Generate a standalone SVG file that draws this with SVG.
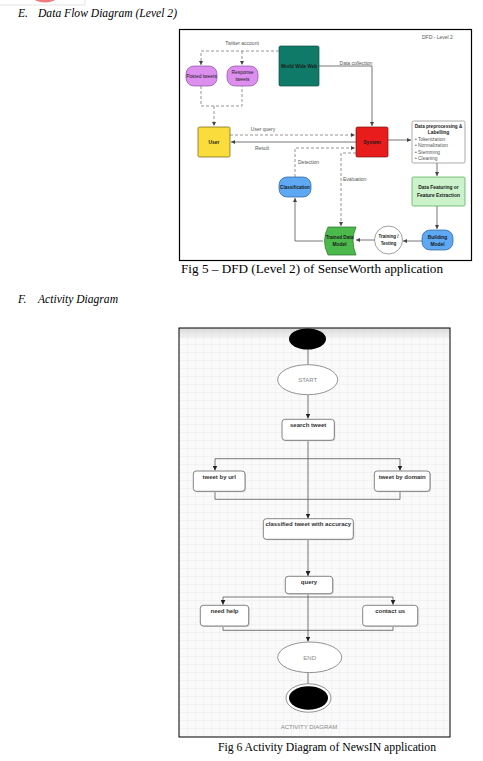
<svg xmlns="http://www.w3.org/2000/svg" width="483" height="761" viewBox="0 0 483 761">
<defs>
<marker id="ah" viewBox="0 0 10 10" refX="10" refY="5" markerWidth="4" markerHeight="4" markerUnits="userSpaceOnUse" orient="auto"><path d="M0,0 L10,5 L0,10 Z" fill="#444"/></marker>
<marker id="ah2" viewBox="0 0 10 10" refX="10" refY="5" markerWidth="5" markerHeight="5" markerUnits="userSpaceOnUse" orient="auto"><path d="M0,0 L10,5 L0,10 Z" fill="#222"/></marker>
<pattern id="grid" width="8" height="8" patternUnits="userSpaceOnUse" x="179" y="328"><path d="M8,0 H0 V8" fill="none" stroke="#e3e3e3" stroke-width="0.6"/></pattern>
<linearGradient id="topshade" x1="0" y1="0" x2="0" y2="1"><stop offset="0" stop-color="#d8d8d8"/><stop offset="1" stop-color="#d8d8d8" stop-opacity="0"/></linearGradient>
<style>
.hd{font-family:"Liberation Serif",serif;font-style:italic;font-size:11.5px;fill:#000}
.cap{font-family:"Liberation Serif",serif;font-size:13px;fill:#000}
.lbl{font-family:"Liberation Sans",Arial,sans-serif;font-size:5px;fill:#555}
.nt{font-family:"Liberation Sans",Arial,sans-serif;font-size:4.9px;font-weight:bold;fill:#1a1a1a;text-anchor:middle;dominant-baseline:central}
.bl{font-family:"Liberation Sans",Arial,sans-serif;font-size:4.9px;fill:#555}
.sl{fill:none;stroke:#666;stroke-width:0.9}
.dl{fill:none;stroke:#888;stroke-width:0.9;stroke-dasharray:3 2}
.ab{fill:#fff;stroke:#666;stroke-width:0.8}
.sh{fill:#d4d4d4}
.at{font-family:"Liberation Sans",Arial,sans-serif;font-size:6px;font-weight:bold;fill:#333;text-anchor:middle}
.ag{font-family:"Liberation Sans",Arial,sans-serif;font-size:6px;fill:#888;text-anchor:middle}
.al{fill:none;stroke:#555;stroke-width:0.8}
</style>
</defs>
<rect width="483" height="761" fill="#fff"/>
<rect x="-1" y="-1" width="86" height="6" fill="none" stroke="#dcdcdc" stroke-width="0.8"/>
<ellipse cx="45" cy="-4" rx="13" ry="6.5" fill="#ee7a7a"/>

<text class="hd" x="18" y="17">E.</text>
<text class="hd" x="38" y="17" textLength="139" lengthAdjust="spacingAndGlyphs">Data Flow Diagram (Level 2)</text>

<rect x="179.5" y="29.5" width="292" height="231" fill="#fff" stroke="#000" stroke-width="1.2"/>
<text class="lbl" x="422" y="39">DFD:- Level 2</text>

<g id="dfd-connectors">
<path class="dl" d="M279,51 H201 V65" marker-end="url(#ah)"/>
<path class="dl" d="M242,51 V65" marker-end="url(#ah)"/>
<path class="dl" d="M201,86 V106 H242 V86"/>
<path class="dl" d="M214,106 V126" marker-end="url(#ah)"/>
<path class="sl" d="M319,66 H372 V126" marker-end="url(#ah)"/>
<path class="dl" d="M230,135 H355" marker-end="url(#ah)"/>
<path class="sl" d="M356,142 H231" marker-end="url(#ah)"/>
<path class="dl" d="M295,177 V148 H355" marker-end="url(#ah)"/>
<path class="dl" d="M356,153 H341 V226" marker-end="url(#ah)"/>
<path class="sl" d="M388,140 H411" marker-end="url(#ah)"/>
<path class="sl" d="M437,163 V176" marker-end="url(#ah)"/>
<path class="sl" d="M437,206 V229" marker-end="url(#ah)"/>
<path class="sl" d="M422,241 H403" marker-end="url(#ah)"/>
<path class="sl" d="M375,240 H356" marker-end="url(#ah)"/>
<path class="sl" d="M323,241 H295 V198" marker-end="url(#ah)"/>
<text class="lbl" x="242" y="45" text-anchor="middle">Twitter account</text>
<text class="lbl" x="356" y="65" text-anchor="middle">Data collection</text>
<text class="lbl" x="263" y="131" text-anchor="middle">User query</text>
<text class="lbl" x="262" y="150" text-anchor="middle">Result</text>
<text class="lbl" x="298" y="164">Detection</text>
<text class="lbl" x="343" y="181">Evaluation</text>
</g>

<g id="posted-tweets"><rect x="186" y="66" width="31" height="20" rx="8" fill="#DD8FF0" stroke="#8E4FA0" stroke-width="0.7"/><text class="nt" style="font-weight:normal" x="201.5" y="76">Posted tweets</text></g>
<g id="response-tweets"><rect x="227" y="66" width="31" height="20" rx="8" fill="#DD8FF0" stroke="#8E4FA0" stroke-width="0.7"/><text class="nt" style="font-weight:normal" x="242.5" y="72.5">Response</text><text class="nt" style="font-weight:normal" x="242.5" y="79.5">tweets</text></g>
<g id="www"><rect x="279" y="46" width="40" height="40" rx="1.5" fill="#107A69" stroke="#0b4d42" stroke-width="0.7"/><text class="nt" style="font-size:4.6px" x="299" y="66">World Wide Web</text></g>
<g id="user"><rect x="198" y="127" width="32" height="30" rx="1.5" fill="#FADC3C" stroke="#6e6010" stroke-width="0.7"/><text class="nt" x="214" y="142">User</text></g>
<g id="system"><rect x="356" y="127" width="32" height="30" rx="1.5" fill="#E81C1C" stroke="#7a1010" stroke-width="0.7"/><text class="nt" x="372" y="142">System</text></g>
<g id="preprocessing"><rect x="412" y="121" width="53" height="42" rx="1.5" fill="#fff" stroke="#888" stroke-width="0.7"/><text class="nt" style="font-size:4.6px" x="438.5" y="126">Data preprocessing &amp;</text><text class="nt" x="438.5" y="132.5">Labelling</text><text class="bl" x="415" y="140.5">• Tokenization</text><text class="bl" x="415" y="147">• Normalization</text><text class="bl" x="415" y="153.5">• Stemming</text><text class="bl" x="415" y="160">• Cleaning</text></g>
<g id="featuring"><rect x="412" y="177" width="53" height="29" rx="1.5" fill="#CBF2CB" stroke="#4aa84a" stroke-width="0.7"/><text class="nt" x="438.5" y="187.5">Data Featuring or</text><text class="nt" x="438.5" y="195">Feature Extraction</text></g>
<g id="building"><rect x="422" y="230" width="31" height="20" rx="8" fill="#5EA8F4" stroke="#2c5f9a" stroke-width="0.7"/><text class="nt" x="437.5" y="237">Building</text><text class="nt" x="437.5" y="244">Model</text></g>
<g id="training"><circle cx="388.5" cy="240" r="14" fill="#fff" stroke="#777" stroke-width="0.7"/><text class="nt" style="font-size:4.5px" x="388.5" y="236.5">Training /</text><text class="nt" style="font-size:4.5px" x="388.5" y="243">Testing</text></g>
<g id="trained-model"><path d="M328,227 H356 Q350,241 356,255 H328 Q321,241 328,227 Z" fill="#4CB94C" stroke="#2a6e2a" stroke-width="0.7"/><text class="nt" style="font-size:4.6px" x="339.5" y="237.5">Trained Data</text><text class="nt" x="339.5" y="244.5">Model</text></g>
<g id="classification"><rect x="279" y="177" width="32" height="20" rx="8" fill="#5EA8F4" stroke="#2c5f9a" stroke-width="0.7"/><text class="nt" style="font-size:4.6px" x="295" y="187">Classification</text></g>

<text class="cap" x="181" y="273" textLength="262" lengthAdjust="spacingAndGlyphs">Fig 5 – DFD (Level 2) of SenseWorth application</text>

<text class="hd" x="18" y="303">F.</text>
<text class="hd" x="38" y="303" textLength="80" lengthAdjust="spacingAndGlyphs">Activity Diagram</text>

<rect x="179" y="328" width="271" height="409" fill="#fafafa"/>
<rect x="179" y="328" width="271" height="409" fill="url(#grid)"/>
<rect x="179" y="328" width="271" height="12" fill="url(#topshade)"/>
<rect x="179" y="328" width="271" height="409" fill="none" stroke="#000" stroke-width="1"/>

<g id="activity-connectors">
<path class="al" d="M308,349 V364.5"/>
<path class="al" d="M308,395 V418.5" marker-end="url(#ah2)"/>
<path class="al" d="M308,440.5 V518.5" marker-end="url(#ah2)"/>
<path class="al" d="M215,458.7 H400 V470.5" marker-end="url(#ah2)"/>
<path class="al" d="M215,458.7 V470.5" marker-end="url(#ah2)"/>
<path class="al" d="M215,491.5 V499.3 H400 V491.5"/>
<path class="al" d="M308,539.5 V576" marker-end="url(#ah2)"/>
<path class="al" d="M308,594 V641.5" marker-end="url(#ah2)"/>
<path class="al" d="M223,597 H393 V604.7" marker-end="url(#ah2)"/>
<path class="al" d="M223,597 V604.7" marker-end="url(#ah2)"/>
<path class="al" d="M223,626 V630.3 H393 V626"/>
<path class="al" d="M308,672.7 V684"/>
</g>

<g id="initial"><ellipse cx="307.5" cy="339" rx="18.5" ry="10.5" fill="#000"/></g>
<g id="start"><ellipse cx="307.7" cy="379.7" rx="30" ry="15" fill="#fff" stroke="#777" stroke-width="0.8"/><text class="ag" x="307.7" y="381.8">START</text></g>
<g id="search-tweet"><rect class="sh" x="283" y="420.3" width="52.3" height="21" rx="3"/><rect class="ab" x="282" y="419.3" width="52.3" height="21" rx="3"/><text class="at" x="308.2" y="427">search tweet</text></g>
<g id="tweet-by-url"><rect class="sh" x="194.3" y="472" width="51.7" height="20.3" rx="3"/><rect class="ab" x="193.3" y="471" width="51.7" height="20.3" rx="3"/><text class="at" x="219.2" y="478.5">tweet by url</text></g>
<g id="tweet-by-domain"><rect class="sh" x="375.3" y="472" width="55.7" height="20.3" rx="3"/><rect class="ab" x="374.3" y="471" width="55.7" height="20.3" rx="3"/><text class="at" x="402.2" y="478.5">tweet by domain</text></g>
<g id="classified"><rect class="sh" x="264.3" y="519.7" width="90" height="20.6" rx="3"/><rect class="ab" x="263.3" y="518.7" width="90" height="20.6" rx="3"/><text class="at" x="308.3" y="525.5">classified tweet with accuracy</text></g>
<g id="query"><rect class="sh" x="286.3" y="577.3" width="47.4" height="17.4" rx="3"/><rect class="ab" x="285.3" y="576.3" width="47.4" height="17.4" rx="3"/><text class="at" x="309" y="583.5">query</text></g>
<g id="need-help"><rect class="sh" x="201.3" y="606.3" width="48.4" height="20.7" rx="3"/><rect class="ab" x="200.3" y="605.3" width="48.4" height="20.7" rx="3"/><text class="at" x="224.5" y="612.5">need help</text></g>
<g id="contact-us"><rect class="sh" x="363.7" y="606.3" width="55" height="20.7" rx="3"/><rect class="ab" x="362.7" y="605.3" width="55" height="20.7" rx="3"/><text class="at" x="390.2" y="612.5">contact us</text></g>
<g id="end"><ellipse cx="309.7" cy="657.3" rx="32" ry="15.3" fill="#fff" stroke="#777" stroke-width="0.8"/><text class="ag" x="309.7" y="659.5">END</text></g>
<g id="final"><ellipse cx="308.5" cy="698" rx="22.5" ry="14.2" fill="#fff" stroke="#777" stroke-width="0.8"/><ellipse cx="308.5" cy="698" rx="19.5" ry="11.7" fill="#000"/></g>
<text class="ag" x="309" y="729">ACTIVITY DIAGRAM</text>

<text class="cap" x="218" y="751" textLength="218" lengthAdjust="spacingAndGlyphs">Fig 6 Activity Diagram of NewsIN application</text>
</svg>
